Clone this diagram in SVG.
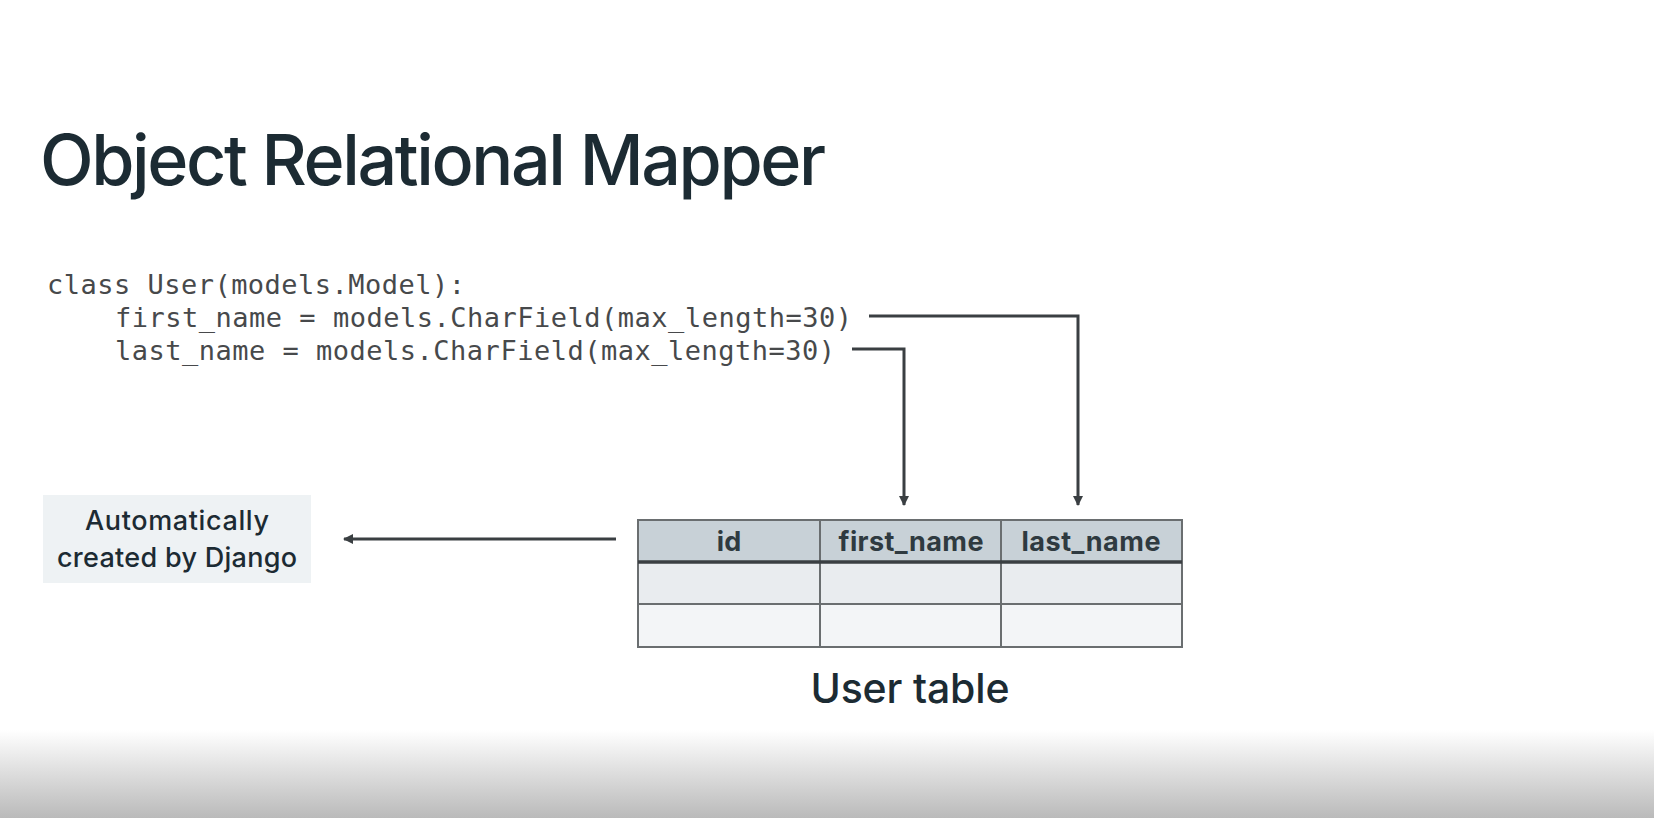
<svg xmlns="http://www.w3.org/2000/svg" width="1654" height="818" viewBox="0 0 1654 818">
<defs>
<linearGradient id="bot" x1="0" y1="0" x2="0" y2="1">
<stop offset="0" stop-color="#ffffff"/>
<stop offset="1" stop-color="#bababa"/>
</linearGradient>
<marker id="ah" viewBox="0 0 10 10" refX="9" refY="5" markerWidth="10" markerHeight="10" markerUnits="userSpaceOnUse" orient="auto">
<path d="M0,0 L10,5 L0,10 z" fill="#3a3f42"/>
</marker>
<style>
.title{font-family:Inter,"Noto Sans",sans-serif;font-size:70px;font-weight:500;fill:#1c2b33;}
.code{font-family:"DejaVu Sans Mono","Liberation Mono",monospace;font-size:27px;fill:#47494b;}
.lbl{font-family:Inter,"Noto Sans",sans-serif;font-size:27px;font-weight:500;fill:#1c2b33;text-anchor:middle;}
.hdr{font-family:Inter,"Noto Sans",sans-serif;font-size:27px;font-weight:bold;fill:#2f3a40;text-anchor:middle;}
.cap{font-family:Inter,"Noto Sans",sans-serif;font-size:41px;font-weight:500;fill:#1c2b33;text-anchor:middle;}
.conn{fill:none;stroke:#3a3f42;stroke-width:3;}
.cell{stroke:#6a6e70;stroke-width:2;}
</style>
</defs>
<rect x="0" y="0" width="1654" height="818" fill="#ffffff"/>
<rect x="0" y="730" width="1654" height="88" fill="url(#bot)"/>
<g id="title">
<text class="title" x="40" y="185" textLength="786">Object Relational Mapper</text>
</g>
<g id="code">
<text class="code" x="47" y="294" textLength="418">class User(models.Model):</text>
<text class="code" x="115" y="327" textLength="737">first_name = models.CharField(max_length=30)</text>
<text class="code" x="115" y="360" textLength="720">last_name = models.CharField(max_length=30)</text>
</g>
<g id="auto-note">
<rect x="43" y="495" width="268" height="88" fill="#eef2f4"/>
<text class="lbl" x="177" y="530" textLength="184">Automatically</text>
<text class="lbl" x="177" y="567" textLength="240">created by Django</text>
</g>
<g id="user-table">
<rect class="cell" x="638" y="520" width="544" height="42" fill="#c8d1d7"/>
<rect class="cell" x="638" y="562" width="544" height="42" fill="#e9ecef"/>
<rect class="cell" x="638" y="604" width="544" height="43" fill="#f3f5f7"/>
<line class="cell" x1="820" y1="520" x2="820" y2="647"/>
<line class="cell" x1="1001" y1="520" x2="1001" y2="647"/>
<line x1="638" y1="562" x2="1182" y2="562" stroke="#3a3f42" stroke-width="3.5"/>
<text class="hdr" x="729" y="551">id</text>
<text class="hdr" x="911" y="551" textLength="145">first_name</text>
<text class="hdr" x="1091" y="551" textLength="139">last_name</text>
<text class="cap" x="910" y="703" textLength="199">User table</text>
</g>
<g id="connectors">
<polyline class="conn" points="869,316 1078,316 1078,505" marker-end="url(#ah)"/>
<polyline class="conn" points="852,349 904,349 904,505" marker-end="url(#ah)"/>
<line class="conn" x1="616" y1="539" x2="344" y2="539" marker-end="url(#ah)"/>
</g>
</svg>
